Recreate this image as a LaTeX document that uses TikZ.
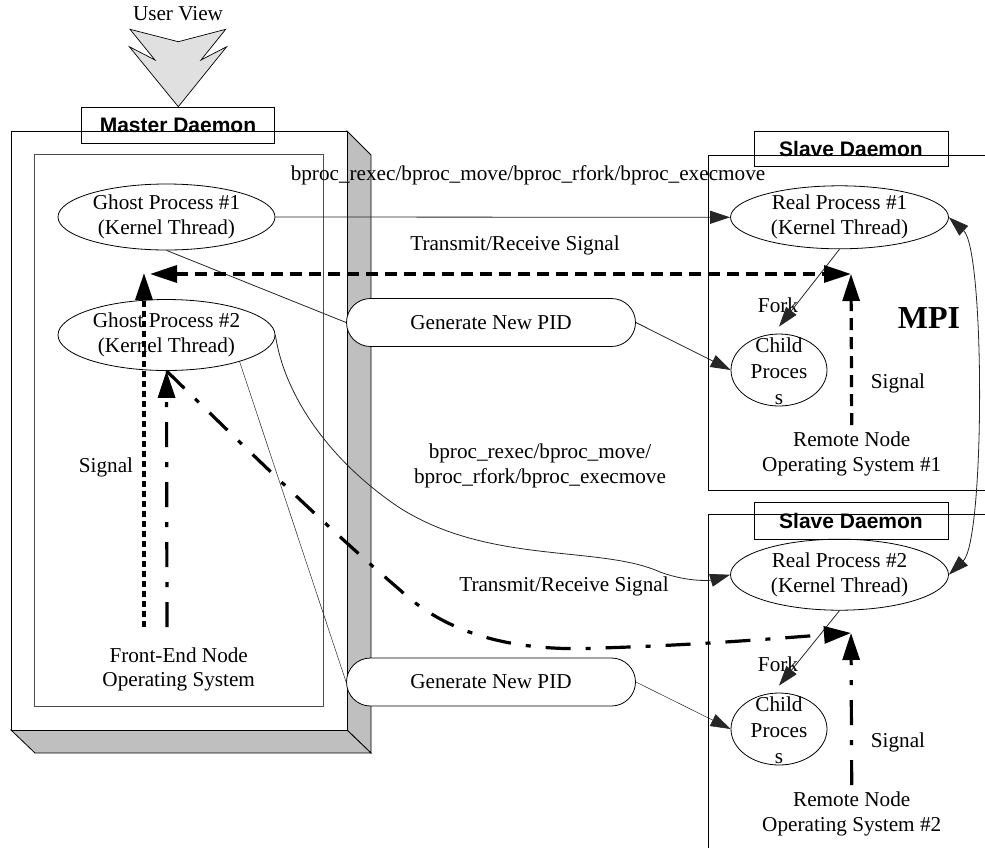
\documentclass[tikz,border=0pt]{standalone}
\usepackage{fontspec}
\setmainfont{Liberation Serif}
\newfontfamily\arialfont{Liberation Sans}
\usetikzlibrary{arrows.meta,shapes.geometric}
\begin{document}
\begin{tikzpicture}[x=1pt,y=-1pt,
  txt/.style={font=\fontsize{21.2}{25}\selectfont, align=center, inner sep=0pt},
  lblbox/.style={draw, line width=0.8pt, inner sep=0pt, font=\arialfont\bfseries\fontsize{21}{25}\selectfont},
  proc/.style={draw, ellipse, line width=0.8pt, inner sep=0pt},
  pidbox/.style={draw, fill=white, rounded corners=24pt, line width=0.8pt, minimum width=289pt, minimum height=48pt, inner sep=0pt, font=\fontsize{21.2}{25}\selectfont},
  thinln/.style={line width=0.8pt, draw=black!85},
  hairln/.style={line width=0.5pt, draw=black!85},
  tarr/.style={-{Triangle[length=20pt,width=13pt]}},
  barr/.style={-{Triangle[length=27pt,width=17pt]}},
  sigdash/.style={line width=3.2pt, dash pattern=on 12pt off 7pt},
  sigshort/.style={line width=3.2pt, dash pattern=on 6pt off 4pt},
  sigdd/.style={line width=3.2pt, dash pattern=on 25pt off 15pt on 5pt off 15pt},
  sidefill/.style={fill=black!25, draw=black, line width=0.8pt}
]
\useasboundingbox (0,0) rectangle (985,847);
\fill[white] (0,0) rectangle (985,847);

% ---- Master daemon 3D box
\filldraw[sidefill] (347,131) -- (371,155) -- (371,753) -- (347,730) -- cycle;
\filldraw[sidefill] (11,730) -- (35,753) -- (371,753) -- (347,730) -- cycle;
\filldraw[fill=white, draw=black, line width=0.8pt] (11,131) rectangle (347,730);
\draw[line width=0.8pt, draw=black!70] (34,154) rectangle (323,706);
\node[lblbox, minimum width=193pt, minimum height=36pt] (md) at (178,125.3) {Master Daemon};

% ---- User view arrow
\filldraw[fill=black!12, draw=black, line width=0.7pt]
  (130,29.3) -- (178.3,41.7) -- (225.7,29.3) -- (201,60) -- (226.7,46.7)
  -- (178.3,106.7) -- (129.3,46.7) -- (155,60) -- cycle;
\node[txt] (uv) at (178,14) {User View};

% ---- Slave daemon boxes
\draw[line width=0.8pt] (990,155) -- (708,155) -- (708,490) -- (990,490);
\node[lblbox, minimum width=194pt, minimum height=35pt] (sd1) at (851,149.2) {Slave Daemon};
\draw[line width=0.8pt] (990,514) -- (708,514) -- (708,850);
\node[lblbox, minimum width=194pt, minimum height=36.6pt] (sd2) at (851,521) {Slave Daemon};

% ---- Processes
\node[proc, minimum width=217pt, minimum height=66pt] (g1) at (166.5,217) {};
\node[txt] at (g1) {Ghost Process \#1\\(Kernel Thread)};
\node[proc, minimum width=217pt, minimum height=71pt] (g2) at (166.5,335) {};
\node[txt] at (g2) {Ghost Process \#2\\(Kernel Thread)};
\node[proc, minimum width=218pt, minimum height=63pt] (r1) at (839.5,217.3) {};
\node[txt] at (r1) {Real Process \#1\\(Kernel Thread)};
\node[proc, minimum width=218pt, minimum height=71pt] (r2) at (839.5,574.7) {};
\node[txt] at (r2) {Real Process \#2\\(Kernel Thread)};
\node[proc, minimum width=96pt, minimum height=72pt] (c1) at (779,370) {};
\node[txt, font=\fontsize{21.2}{26}\selectfont] at (779,371) {Child\\Proces\\s};
\node[proc, minimum width=96pt, minimum height=72pt] (c2) at (779,729) {};
\node[txt, font=\fontsize{21.2}{26}\selectfont] at (779,730) {Child\\Proces\\s};

\node[pidbox] (pid1) at (491,322.5) {Generate New PID};
\node[pidbox] (pid2) at (491,682) {Generate New PID};

% ---- Texts
\node[txt] (t1) at (528,175) {bproc\_rexec/bproc\_move/bproc\_rfork/bproc\_execmove};
\node[txt] (t2) at (515,245) {Transmit/Receive Signal};
\node[txt] (t3) at (540,466) {bproc\_rexec/bproc\_move/\\bproc\_rfork/bproc\_execmove};
\node[txt] (t4) at (564,586.7) {Transmit/Receive Signal};
\node[txt] (sigL) at (106,467) {Signal};
\node[txt, font=\fontsize{21.2}{24}\selectfont] (fe) at (178.7,669.7) {Front-End Node\\Operating System};
\node[txt] (fk1) at (778,305) {Fork};
\node[txt] (fk2) at (778,664) {Fork};
\node[txt, font=\bfseries\fontsize{32}{36}\selectfont] (mpi) at (929,318) {MPI};
\node[txt] (sR1) at (898,383.3) {Signal};
\node[txt] (sR2) at (898,742.7) {Signal};
\node[txt] (os1) at (851.7,454) {Remote Node\\Operating System \#1};
\node[txt] (os2) at (851.7,814) {Remote Node\\Operating System \#2};

% ---- Coordinates
\coordinate (gsig) at (150,274);
\coordinate (rsig1) at (851,274);
\coordinate (rsig2) at (851,633);
\coordinate (feA) at (144,627);
\coordinate (feAt) at (144,273);
\coordinate (feB) at (167,627);
\coordinate (osA) at (851.7,425);
\coordinate (osB) at (851.7,785);

% ---- Thin connectors
\draw[thinln, tarr] (g1.east) -- (r1.west);
\draw[thinln] (g1.south) -- (pid1.west);
\draw[thinln, tarr] (pid1.east) -- (c1.west);
\draw[thinln, tarr] (r1.south) -- ([yshift=7pt]c1.north);
\draw[thinln, tarr] (g2.east) .. controls (285,400) and (335,465) .. (400,508)
   .. controls (490,565) and (600,545) .. (660,572)
   .. controls (690,583) and (712,580) .. (r2.west);
\draw[hairln] (g2.-20) -- (pid2.west);
\draw[hairln, tarr] (pid2.east) -- (c2.west);
\draw[thinln, tarr] (r2.south) -- ([yshift=7pt]c2.north);
\draw[thinln, {Triangle[length=20pt,width=13pt]}-{Triangle[length=20pt,width=13pt]}]
   (r1.east) .. controls (985,250) and (985,540) .. (r2.east);

% ---- Signal connectors
\draw[sigdash, {Triangle[length=27pt,width=17pt]}-{Triangle[length=27pt,width=17pt]}] (gsig) -- (rsig1);
\draw[sigshort, barr] (feA) -- (feAt);
\draw[sigdd, barr] (feB) -- (g2.south);
\draw[sigdash, barr] (osA) -- (rsig1);
\draw[sigdd, barr] (osB) -- (rsig2);
\draw[sigdd, barr] (g2.south) .. controls (260,462) and (330,530) .. (400,590)
   .. controls (450,637) and (520,652) .. (600,648)
   .. controls (700,645) and (780,638) .. (rsig2);
\end{tikzpicture}
\end{document}
